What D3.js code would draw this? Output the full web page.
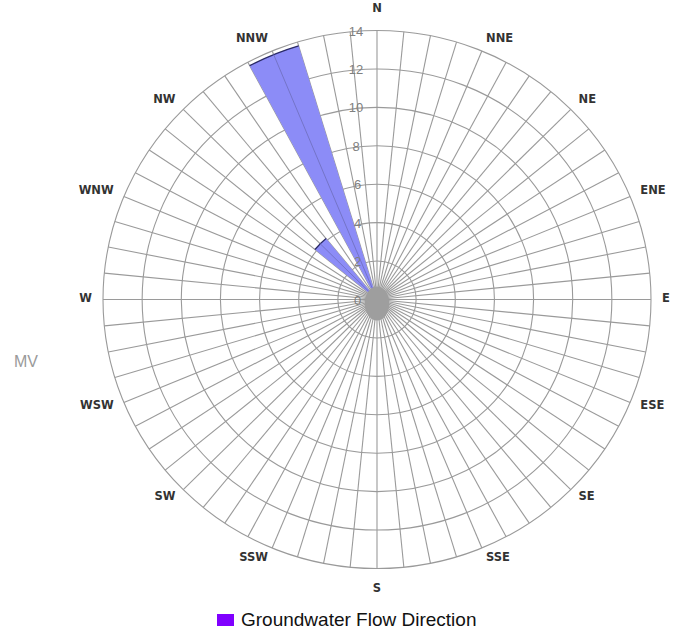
<!DOCTYPE html>
<html>
<head>
<meta charset="utf-8">
<script src="https://cdn.jsdelivr.net/npm/d3@7"></script>
<style>
  html, body { margin: 0; padding: 0; background: #fff; }
  svg { display: block; }
</style>
</head>
<body>
<svg id="chart" width="687" height="635"></svg>
<script>
// ---- data ----
const directionLabels = ["N","NNE","NE","ENE","E","ESE","SE","SSE","S","SSW","SW","WSW","W","WNW","NW","NNW"];
// 32 sectors (11.25° each), starting at N going clockwise
const sectorAngles = d3.range(32).map(i => i * 11.25);
const flowValues = [0,0,0,0,0,0,0,0, 0,0,0,0,0,0,0,0, 0,0,0,0,0,0,0,0, 0,0,0,0,4.1,0,13.8,0];
const radialTicks = [0,2,4,6,8,10,12,14];
const seriesName = "Groundwater Flow Direction";
const sideLabel = "MV";

// ---- layout ----
const svg = d3.select("#chart");
const cx = 377, cy = 299.5;
const xStretch = 274 / 269;
const r = d3.scaleLinear().domain([0, 14]).range([0, 269]);
const toRad = d => d * Math.PI / 180;

const g = svg.append("g").attr("transform", `translate(${cx},${cy}) scale(${xStretch},1)`);

// rings
g.selectAll("circle.ring").data(radialTicks.filter(t => t > 0)).join("circle")
  .attr("class", "ring").attr("r", d => r(d))
  .attr("fill", "none").attr("stroke", "#9a9a9a").attr("stroke-width", 1.1)
  .attr("vector-effect", "non-scaling-stroke");

// spokes (64)
const spokeAngles = d3.range(64).map(i => i * 5.625);
g.selectAll("line.spoke").data(spokeAngles).join("line")
  .attr("class", "spoke")
  .attr("x1", 0).attr("y1", 0)
  .attr("x2", d => r(14) * Math.sin(toRad(d)))
  .attr("y2", d => -r(14) * Math.cos(toRad(d)))
  .attr("stroke", "#9a9a9a").attr("stroke-width", 1.1)
  .attr("vector-effect", "non-scaling-stroke");

// wedges
const sectors = sectorAngles.map((a, i) => ({ a, v: flowValues[i] })).filter(d => d.v > 0);
const arc = d3.arc().innerRadius(0)
  .outerRadius(d => r(d.v))
  .startAngle(d => toRad(d.a - 5.625))
  .endAngle(d => toRad(d.a + 5.625));
g.selectAll("path.wedge").data(sectors).join("path")
  .attr("class", "wedge").attr("d", arc)
  .attr("fill", "#8c8cf7").attr("stroke", "none");
const topArc = d3.arc().innerRadius(d => r(d.v)).outerRadius(d => r(d.v))
  .startAngle(d => toRad(d.a - 5.625))
  .endAngle(d => toRad(d.a + 5.625));
g.selectAll("path.wedgeTop").data(sectors).join("path")
  .attr("class", "wedgeTop").attr("d", topArc)
  .attr("fill", "none").attr("stroke", "#2a2a66").attr("stroke-width", 1.3)
  .attr("vector-effect", "non-scaling-stroke");
g.selectAll("line.wedgeMid").data(sectors).join("line")
  .attr("x1", 0).attr("y1", 0)
  .attr("x2", d => r(d.v) * Math.sin(toRad(d.a)))
  .attr("y2", d => -r(d.v) * Math.cos(toRad(d.a)))
  .attr("stroke", "#7474c8").attr("stroke-width", 1)
  .attr("vector-effect", "non-scaling-stroke");

// center blob (converging spokes)
g.append("ellipse").attr("cx", 0).attr("cy", 4).attr("rx", 12).attr("ry", 17).attr("fill", "#9e9e9e");

// radial tick labels
svg.selectAll("text.tick").data(radialTicks).join("text")
  .attr("class", "tick")
  .attr("x", d => 356 + (d < 8 ? 1.5 : 0))
  .attr("y", d => cy - r(d) + 5)
  .attr("text-anchor", "middle")
  .attr("font-family", "'Liberation Sans', Arial, sans-serif")
  .attr("font-size", 13)
  .attr("fill", "#808080")
  .text(d => d);

// direction labels
const labelRx = 285, labelRy = 281, labelCy = 297.5;
svg.selectAll("text.dir").data(directionLabels).join("text")
  .attr("class", "dir")
  .attr("x", (d, i) => cx + labelRx * Math.sin(toRad(i * 22.5)))
  .attr("y", (d, i) => {
    const c = Math.cos(toRad(i * 22.5));
    const extra = i === 0 ? -8.5 : (i === 8 ? 9.5 : 0);
    return labelCy - labelRy * c + extra + 4.2;
  })
  .attr("text-anchor", (d, i) => {
    const s = Math.sin(toRad(i * 22.5));
    return Math.abs(s) < 0.01 ? "middle" : (s > 0 ? "start" : "end");
  })
  .attr("font-family", "'DejaVu Sans', sans-serif")
  .attr("font-weight", "bold")
  .attr("font-size", 11.5)
  .attr("fill", "#333")
  .text(d => d);

// side label
svg.append("text").attr("x", 14).attr("y", 367)
  .attr("font-family", "'Liberation Sans', Arial, sans-serif")
  .attr("font-size", 16).attr("fill", "#9a9a9a").text(sideLabel);

// legend
const legend = svg.append("g");
legend.append("rect").attr("x", 217).attr("y", 614).attr("width", 17).attr("height", 12).attr("fill", "#8000ff");
legend.append("text").attr("x", 241).attr("y", 626)
  .attr("font-family", "'Liberation Sans', Arial, sans-serif")
  .attr("font-size", 19).attr("fill", "#111").text(seriesName);
</script>
</body>
</html>
